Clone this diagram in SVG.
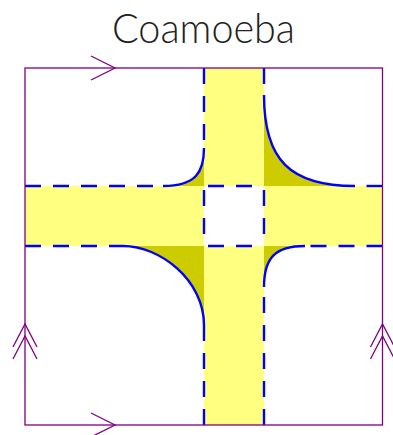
<svg xmlns="http://www.w3.org/2000/svg" width="393" height="435" viewBox="0 0 393 435">
<style>
.band{fill:#ffff80;stroke:none}
.dark{fill:#cccc00;stroke:none}
.dash{stroke:#0000ff;stroke-width:2.4;stroke-dasharray:16 12;fill:none}
.curve{stroke:#0000ff;stroke-width:2.4;fill:none}
.frame{stroke:#800080;stroke-width:1.3;fill:none}
.title{font-family:Lato,"Liberation Sans",sans-serif;font-weight:300;font-size:42px;fill:#222}
</style>
<rect width="393" height="435" fill="#ffffff"/>
<g id="title"><text class="title" x="203.5" y="43" text-anchor="middle" textLength="183" lengthAdjust="spacingAndGlyphs">Coamoeba</text></g>
<g id="bands">
<rect class="band" x="204" y="68" width="60" height="118"/>
<rect class="band" x="204" y="246" width="60" height="179"/>
<rect class="band" x="25" y="186" width="179" height="60"/>
<rect class="band" x="264" y="186" width="118.5" height="60"/>
</g>
<g id="regions">
<path class="dark" d="M204,148 C204,172 196,186 163,186 L204,186 Z"/>
<path class="dark" d="M264,95 C264,160 290,186 355,186 L264,186 Z"/>
<path class="dark" d="M123,246 C160,246 204,280 204,325 L204,246 Z"/>
<path class="dark" d="M264,287 C264,258 275,246 305,246 L264,246 Z"/>
</g>
<g id="connectors">
<path class="dash" d="M204,68 V148"/>
<path class="dash" d="M204,186 V246" stroke-dashoffset="-4"/>
<path class="dash" d="M204,425 V325"/>
<path class="dash" d="M264,68 V95"/>
<path class="dash" d="M264,186 V246" stroke-dashoffset="-4"/>
<path class="dash" d="M264,425 V287"/>
<path class="dash" d="M25,186 H163"/>
<path class="dash" d="M204,186 H264" stroke-dashoffset="-4"/>
<path class="dash" d="M382.5,186 H355"/>
<path class="dash" d="M25,246 H123"/>
<path class="dash" d="M204,246 H264" stroke-dashoffset="-4"/>
<path class="dash" d="M382.5,246 H305"/>
<path class="curve" d="M204,148 C204,172 196,186 163,186"/>
<path class="curve" d="M264,95 C264,160 290,186 355,186"/>
<path class="curve" d="M123,246 C160,246 204,280 204,325"/>
<path class="curve" d="M264,287 C264,258 275,246 305,246"/>
</g>
<g id="frame">
<rect class="frame" x="25" y="68" width="357.5" height="357"/>
<path class="frame" d="M91,56 L115,68 L91,80"/>
<path class="frame" d="M91,413 L115,425 L91,437"/>
<path class="frame" d="M13,347 L25,324 L37,347 M13,359 L25,336 L37,359"/>
<path class="frame" d="M370.5,347 L382.5,324 L394.5,347 M370.5,359 L382.5,336 L394.5,359"/>
</g>
</svg>
